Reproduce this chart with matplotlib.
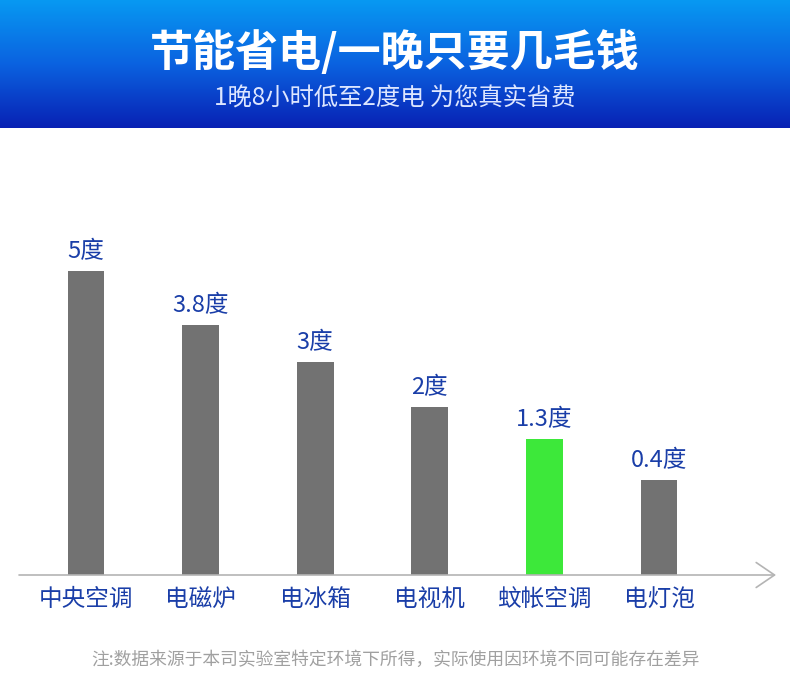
import numpy as np
import matplotlib.pyplot as plt
from matplotlib.colors import LinearSegmentedColormap

plt.rcParams['font.family'] = ['Noto Sans CJK SC', 'DejaVu Sans']

# data
categories = ['中央空调', '电磁炉', '电冰箱', '电视机', '蚊帐空调', '电灯泡']
values = [5, 3.8, 3, 2, 1.3, 0.4]
highlight = '蚊帐空调'

title = '节能省电/一晚只要几毛钱'
subtitle = '1晚8小时低至2度电 为您真实省费'
note = '注:数据来源于本司实验室特定环境下所得，实际使用因环境不同可能存在差异'

W, H = 790, 688
fig = plt.figure(figsize=(W / 100, H / 100), dpi=100)
fig.patch.set_facecolor('white')

# header band with vertical gradient
hdr = fig.add_axes([0, (H - 128) / H, 1, 128 / H])
cmap = LinearSegmentedColormap.from_list('hdr', ['#0799f2', '#0b62e0', '#0821b4'])
grad = np.linspace(0, 1, 256).reshape(-1, 1)
hdr.imshow(grad, aspect='auto', cmap=cmap, extent=[0, 1, 0, 1], origin='upper')
hdr.set_axis_off()
fig.text(0.5, (H - 52) / H, title, color='white', fontsize=31, fontweight='bold',
         ha='center', va='center')
fig.text(0.5, (H - 99) / H, subtitle, color='#dde6ff', fontsize=17.5,
         ha='center', va='center')

# bar chart
base = 1.7           # visual offset of the baseline used in the original
step = 114.6         # px between bars
x0 = 86              # px of first bar centre
left_px, right_px = 19, 776
bottom_px, top_px = 575, 130
ax = fig.add_axes([left_px / W, (H - bottom_px) / H, (right_px - left_px) / W,
                   (bottom_px - top_px) / H])
ax.set_xlim((left_px - x0) / step, (right_px - x0) / step)
ax.set_ylim(-base, -base + (bottom_px - top_px) / 45.4)

x = np.arange(len(categories))
colors = ['#3de83a' if c == highlight else '#727272' for c in categories]
heights = np.array(values) + base
ax.bar(x, heights, bottom=-base, width=0.32, color=colors)

for xi, v in zip(x, values):
    ax.annotate('%g度' % v, (xi, v), xytext=(0, 8), textcoords='offset pixels',
                ha='center', va='bottom', fontsize=17, color='#1a3ea8')

ax.set_xticks(x)
ax.set_xticklabels(categories, fontsize=17, color='#1a3ea8')
ax.tick_params(axis='x', length=0, pad=9)
ax.set_yticks([])
for s in ['top', 'right', 'left', 'bottom']:
    ax.spines[s].set_visible(False)
ax.set_facecolor('none')

# axis line with open arrow head
xl = ax.get_xlim()
ax.annotate('', xy=(xl[1], -base), xytext=(xl[0], -base),
            arrowprops=dict(arrowstyle='->,head_length=1.1,head_width=0.75',
                            color='#b4b4b4', lw=1.2, mutation_scale=12,
                            shrinkA=0, shrinkB=0),
            annotation_clip=False)

fig.text(0.5, (H - 660) / H, note, color='#a0a0a0', fontsize=12.8,
         ha='center', va='center')

fig.savefig('out.png', dpi=100)
